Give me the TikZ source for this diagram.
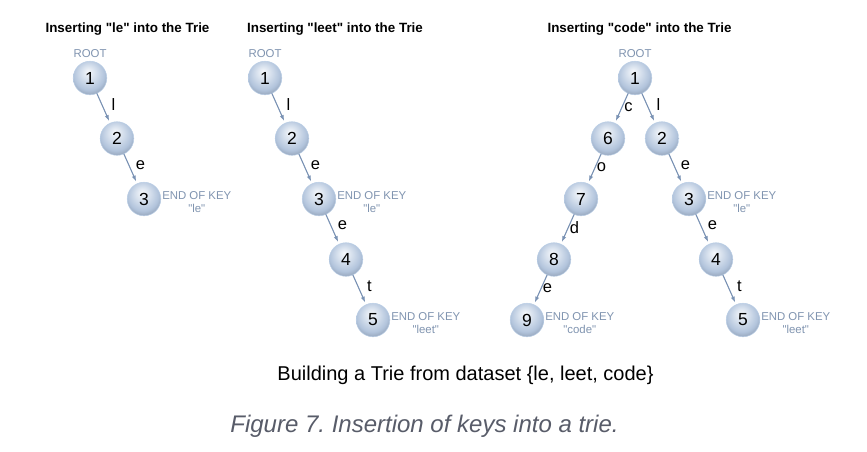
\documentclass[tikz,border=0pt]{standalone}
\usepackage{fontspec}
\setmainfont{Liberation Sans}[Ligatures=TeXOff]
\usetikzlibrary{arrows.meta,positioning}
\definecolor{tlite}{RGB}{246,248,251}
\definecolor{tmid}{RGB}{214,224,237}
\definecolor{tball}{RGB}{178,196,220}
\definecolor{tdark}{RGB}{132,146,166}
\definecolor{trim}{RGB}{186,206,230}
\definecolor{tarrow}{RGB}{122,146,180}
\definecolor{tkey}{RGB}{128,148,176}
\definecolor{tcap}{RGB}{88,92,105}
\pgfdeclareradialshading{trieball}{\pgfpoint{-3bp}{10bp}}{color(0bp)=(tlite); color(11bp)=(tmid); color(23bp)=(tball); color(34bp)=(tdark); color(50bp)=(tdark)}

\begin{document}
\frenchspacing
\begin{tikzpicture}[x=1pt,y=-1pt,line cap=round,line join=round,
  trienode/.style={circle,minimum size=33.6pt,inner sep=0pt,shading=trieball,draw=trim,line width=0.5pt,font=\fontsize{17.5}{17.5}\selectfont},
  triearrow/.style={draw=tarrow,line width=1.1pt,-{Latex[length=6pt,width=4.2pt]},shorten >=2pt},
  lblr/.style={midway,xshift=10pt,yshift=4pt,inner sep=0pt,font=\fontsize{16.5}{16.5}\selectfont},
  lbll/.style={midway,xshift=7pt,yshift=1.5pt,inner sep=0pt,font=\fontsize{16.5}{16.5}\selectfont},
  rootlbl/.style={above=2pt,inner sep=1pt,text=tkey,font=\fontsize{11.4}{13}\selectfont},
  keylbl/.style={right=1pt,yshift=-3pt,inner sep=0pt,align=center,text=tkey,font=\fontsize{11.4}{13}\selectfont},
  titlelbl/.style={anchor=base,inner sep=0pt,font=\fontsize{13.4}{15}\selectfont\bfseries}]
  \fill[white] (0,0) rectangle (867,451);
  \useasboundingbox (0,0) rectangle (867,451);
  % titles
  \node[titlelbl] (t1) at (127.5,32.5) {Inserting "le" into the Trie};
  \node[titlelbl] (t2) at (335,32.5) {Inserting "leet" into the Trie};
  \node[titlelbl] (t3) at (639.5,32.5) {Inserting "code" into the Trie};
  % trie after "le"
  \node[trienode] (a1) at (90,78) {1};
  \node[trienode] (a2) at (117,138.5) {2};
  \node[trienode] (a3) at (144,199) {3};
  \node[rootlbl] (ar) at (a1.north) {ROOT};
  \node[keylbl] (ak) at (a3.east) {END OF KEY\\"le"};
  \draw[triearrow] (a1) -- node[lblr] {l} (a2);
  \draw[triearrow] (a2) -- node[lblr] {e} (a3);
  % trie after "leet"
  \node[trienode] (b1) at (265,78) {1};
  \node[trienode] (b2) at (292,138.5) {2};
  \node[trienode] (b3) at (319,199) {3};
  \node[trienode] (b4) at (346,259.5) {4};
  \node[trienode] (b5) at (373,320) {5};
  \node[rootlbl] (br) at (b1.north) {ROOT};
  \node[keylbl] (bk1) at (b3.east) {END OF KEY\\"le"};
  \node[keylbl] (bk2) at (b5.east) {END OF KEY\\"leet"};
  \draw[triearrow] (b1) -- node[lblr] {l} (b2);
  \draw[triearrow] (b2) -- node[lblr] {e} (b3);
  \draw[triearrow] (b3) -- node[lblr] {e} (b4);
  \draw[triearrow] (b4) -- node[lblr] {t} (b5);
  % trie after "code"
  \node[trienode] (c1) at (635,78) {1};
  \node[trienode] (c6) at (608,138.5) {6};
  \node[trienode] (c7) at (581,199) {7};
  \node[trienode] (c8) at (554,259.5) {8};
  \node[trienode] (c9) at (527,320) {9};
  \node[trienode] (c2) at (662,138.5) {2};
  \node[trienode] (c3) at (689,199) {3};
  \node[trienode] (c4) at (716,259.5) {4};
  \node[trienode] (c5) at (743,320) {5};
  \node[rootlbl] (cr) at (c1.north) {ROOT};
  \node[keylbl] (ck1) at (c9.east) {END OF KEY\\"code"};
  \node[keylbl] (ck2) at (c3.east) {END OF KEY\\"le"};
  \node[keylbl] (ck3) at (c5.east) {END OF KEY\\"leet"};
  \draw[triearrow] (c1) -- node[lbll] {c} (c6);
  \draw[triearrow] (c6) -- node[lbll] {o} (c7);
  \draw[triearrow] (c7) -- node[lbll] {d} (c8);
  \draw[triearrow] (c8) -- node[lbll] {e} (c9);
  \draw[triearrow] (c1) -- node[lblr] {l} (c2);
  \draw[triearrow] (c2) -- node[lblr] {e} (c3);
  \draw[triearrow] (c3) -- node[lblr] {e} (c4);
  \draw[triearrow] (c4) -- node[lblr] {t} (c5);
  % captions
  \node[anchor=base,inner sep=0pt,font=\fontsize{20}{22}\selectfont] (cap) at (465.5,380) {Building a Trie from dataset \{le, leet, code\}};
  \node[anchor=base,inner sep=0pt,text=tcap,font=\fontsize{24}{26}\selectfont\itshape] (fig) at (424.5,432) {Figure 7. Insertion of keys into a trie.};
\end{tikzpicture}
\end{document}
